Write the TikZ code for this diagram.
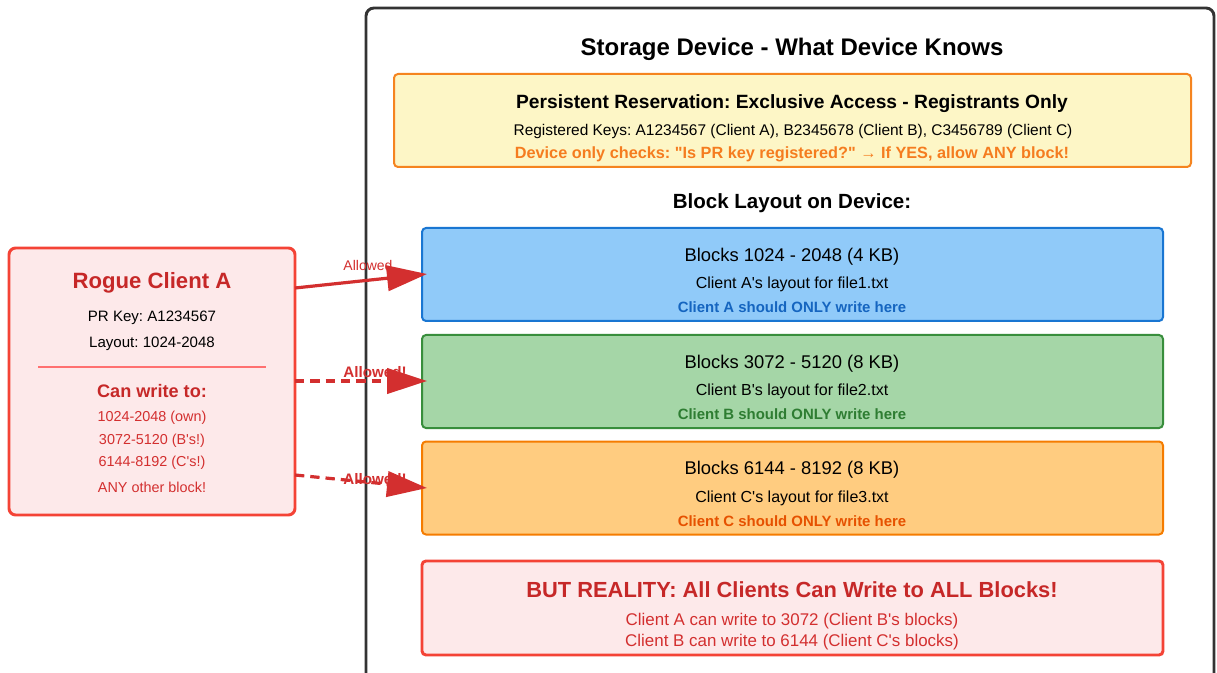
\documentclass[tikz,border=0pt]{standalone}
\usepackage{fontspec}
\setmainfont{Liberation Sans}[Ligatures=TeXOff]
\frenchspacing
\usetikzlibrary{arrows.meta}
\definecolor{devstroke}{HTML}{333333}
\definecolor{prfill}{HTML}{FDF6C6}
\definecolor{prstroke}{HTML}{F5841F}
\definecolor{prtext}{HTML}{F57C1F}
\definecolor{afill}{HTML}{90CAF9}
\definecolor{astroke}{HTML}{1976D2}
\definecolor{atext}{HTML}{1565C0}
\definecolor{bfill}{HTML}{A5D6A7}
\definecolor{bstroke}{HTML}{388E3C}
\definecolor{btext}{HTML}{2E7D32}
\definecolor{cfill}{HTML}{FFCC80}
\definecolor{cstroke}{HTML}{F57C00}
\definecolor{ctext}{HTML}{E65100}
\definecolor{rfill}{HTML}{FDE9EA}
\definecolor{rstroke}{HTML}{F44336}
\definecolor{rdark}{HTML}{C62828}
\definecolor{rtext}{HTML}{D32F2F}
\definecolor{sepline}{HTML}{FF7070}
\newcommand{\fs}[1]{\fontsize{#1}{#1}\selectfont}
\begin{document}
\begin{tikzpicture}[x=0.75pt,y=-0.75pt,
  box/.style={draw,rounded corners=3pt,line width=1.5pt,inner sep=0pt},
  txt/.style={inner sep=0pt,anchor=center,yshift=-1.5pt},
  arr/.style={draw=rtext,line width=2.4pt,-{Triangle[length=30pt,width=19pt]}},
  dasharr/.style={arr,dash pattern=on 7pt off 4.5pt},
  lbl/.style={txt,text=rtext}]
\useasboundingbox (0,0) rectangle (1217,673);
\fill[white] (0,0) rectangle (1217,673);
% storage device
\draw[devstroke,line width=2.2pt,rounded corners=6pt] (366,690) -- (366,8) -- (1214,8) -- (1214,690);
\node[txt,font=\bfseries\fs{18}] (devtitle) at (792,47) {Storage Device - What Device Knows};
% PR box
\node[box,draw=prstroke,fill=prfill,minimum width=797*0.75pt,minimum height=93*0.75pt] (pr) at (792.5,120.5) {};
\node[txt,font=\bfseries\fs{14.4}] (pr1) at (792,102) {Persistent Reservation: Exclusive Access - Registrants Only};
\node[txt,font=\fs{11.6}] (pr2) at (793,130) {Registered Keys: A1234567 (Client A), B2345678 (Client B), C3456789 (Client C)};
\node[txt,font=\bfseries\fs{12.2},text=prtext] (pr3) at (792,152) {Device only checks: "Is PR key registered?" → If YES, allow ANY block!};
\node[txt,font=\bfseries\fs{15.4}] (layout) at (792,201) {Block Layout on Device:};
% blocks
\node[box,draw=astroke,fill=afill,minimum width=741*0.75pt,minimum height=93*0.75pt] (blockA) at (792.5,274.5) {};
\node[txt,font=\fs{13.8}] at (792,255) {Blocks 1024 - 2048 (4 KB)};
\node[txt,font=\fs{12}] at (792,282) {Client A's layout for file1.txt};
\node[txt,font=\bfseries\fs{11.2},text=atext] at (792,305) {Client A should ONLY write here};
\node[box,draw=bstroke,fill=bfill,minimum width=741*0.75pt,minimum height=93*0.75pt] (blockB) at (792.5,381.5) {};
\node[txt,font=\fs{13.8}] at (792,362) {Blocks 3072 - 5120 (8 KB)};
\node[txt,font=\fs{12}] at (792,389) {Client B's layout for file2.txt};
\node[txt,font=\bfseries\fs{11.2},text=btext] at (792,412) {Client B should ONLY write here};
\node[box,draw=cstroke,fill=cfill,minimum width=741*0.75pt,minimum height=93*0.75pt] (blockC) at (792.5,488) {};
\node[txt,font=\fs{13.8}] at (792,468) {Blocks 6144 - 8192 (8 KB)};
\node[txt,font=\fs{12}] at (792,496) {Client C's layout for file3.txt};
\node[txt,font=\bfseries\fs{11.2},text=ctext] at (792,519) {Client C should ONLY write here};
% reality
\node[box,draw=rstroke,fill=rfill,line width=2.2pt,minimum width=741*0.75pt,minimum height=94*0.75pt] (real) at (792.5,608) {};
\node[txt,font=\bfseries\fs{16.4},text=rdark] at (792,588) {BUT REALITY: All Clients Can Write to ALL Blocks!};
\node[txt,font=\fs{12.7},text=rtext] at (792,619) {Client A can write to 3072 (Client B's blocks)};
\node[txt,font=\fs{12.7},text=rtext] at (792,640) {Client B can write to 6144 (Client C's blocks)};
% rogue client
\node[box,draw=rstroke,fill=rfill,line width=2.2pt,rounded corners=5pt,minimum width=286*0.75pt,minimum height=267*0.75pt] (rogue) at (152,381.5) {};
\node[txt,font=\bfseries\fs{16.6},text=rdark] at (152,281) {Rogue Client A};
\node[txt,font=\fs{11.3}] at (152,316) {PR Key: A1234567};
\node[txt,font=\fs{11.3}] at (152,342) {Layout: 1024-2048};
\draw[sepline,line width=0.8pt] (38,367) -- (266,367);
\node[txt,font=\bfseries\fs{13.6},text=rdark] at (152,389) {Can write to:};
\node[txt,font=\fs{10.8},text=rtext] at (152,416) {1024-2048 (own)};
\node[txt,font=\fs{10.8},text=rtext] at (152,439) {3072-5120 (B's!)};
\node[txt,font=\fs{10.8},text=rtext] at (152,461) {6144-8192 (C's!)};
\node[txt,font=\fs{10.8},text=rtext] at (152,485) {ANY other block!};
% arrows
\coordinate (s1) at (295,288);
\coordinate (t1) at (427,274);
\coordinate (s2) at (295,381);
\coordinate (t2) at (427,381);
\coordinate (s3) at (295,475);
\coordinate (t3) at (427,488);
\draw[arr] (s1) -- (t1);
\draw[dasharr] (s2) -- (t2);
\draw[dasharr] (s3) -- (t3);
\node[lbl,font=\fs{10.5}] at (368,263) {Allowed};
\node[lbl,font=\bfseries\fs{11.4}] at (375,370) {Allowed!};
\node[lbl,font=\bfseries\fs{11.4}] at (375,477) {Allowed!};
\end{tikzpicture}
\end{document}
